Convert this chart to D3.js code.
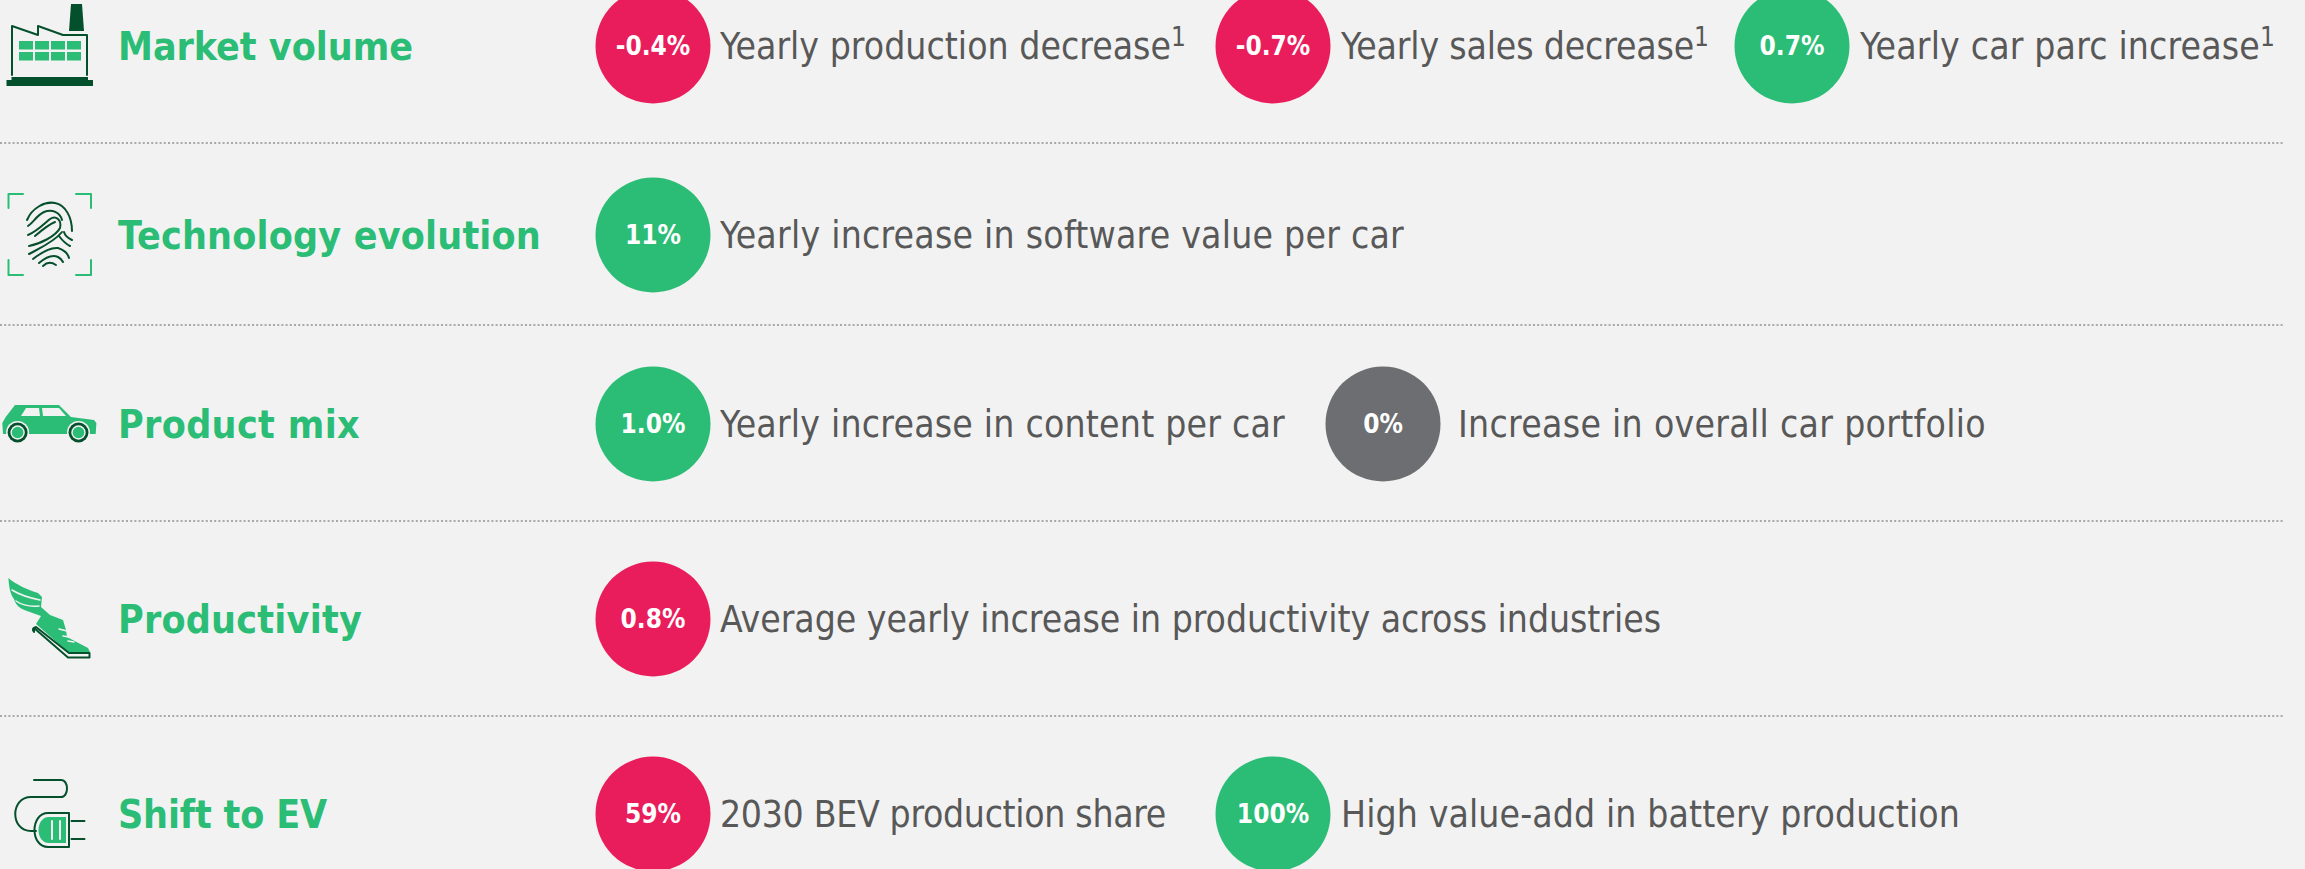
<!DOCTYPE html>
<html><head><meta charset="utf-8">
<script src="https://cdnjs.cloudflare.com/ajax/libs/d3/7.8.5/d3.min.js"></script>
<style>html,body{margin:0;padding:0;background:#f2f2f2;overflow:hidden}svg{display:block}</style>
</head><body><svg id="c" width="2305" height="869"></svg>
<script>
// ---- data ----
const categories = ["Market volume","Technology evolution","Product mix","Productivity","Shift to EV"];
const badgeCategory = ["Market volume","Market volume","Market volume","Technology evolution","Product mix","Product mix","Productivity","Shift to EV","Shift to EV"];
const badgeLabels = ["-0.4%","-0.7%","0.7%","11%","1.0%","0%","0.8%","59%","100%"];
const badgeStatus = ["neg","neg","pos","pos","pos","flat","neg","neg","pos"];
const badgeTexts = ["Yearly production decrease","Yearly sales decrease","Yearly car parc increase","Yearly increase in software value per car","Yearly increase in content per car","Increase in overall car portfolio","Average yearly increase in productivity across industries","2030 BEV production share","High value-add in battery production"];
const badgeNotes = ["1","1","1","","","","","",""];

// ---- layout ----
const GREEN="#2bbd75", DARK="#05502c", RED="#ea1d5c", GREY="#6d6e71", TEXT="#585858", BG="#f2f2f2";
const FONT="'DejaVu Sans Condensed','DejaVu Sans',sans-serif";
const y = d3.scaleOrdinal().domain(categories).range([46,235,424,619,814]);
const color = d3.scaleOrdinal().domain(["neg","pos","flat"]).range([RED,GREEN,GREY]);
const slotX = [653,1273,1792,653,653,1383,653,653,1273];
const textX = [720,1341,1860,720,720,1458,720,720,1341];
const textW = [451,353,400,684,565,528,941,446,619];
const titleX = [118,118,118,118,118];
const titleW = [295,423,242,244,209];
const rules = [143,325,521,716];
const svg = d3.select("#c");
svg.append("rect").attr("width",2305).attr("height",869).attr("fill",BG);

// stretch or tighten a text run to the measured width
function fit(sel,widths){sel.each(function(d,i){
  const w=this.getComputedTextLength(), n=this.textContent.length;
  d3.select(this).attr("letter-spacing",((widths[i]-w)/n).toFixed(3));
});}

svg.selectAll("line.r").data(rules).join("line").attr("class","r")
  .attr("x1",0).attr("x2",2284).attr("y1",d=>d).attr("y2",d=>d)
  .attr("stroke","#a8a8a8").attr("stroke-width",2).attr("stroke-dasharray","2 2.2");

svg.selectAll("text.t").data(categories).join("text").attr("class","t")
  .attr("x",(d,i)=>titleX[i]).attr("y",d=>y(d)+14).attr("fill",GREEN)
  .attr("font-family",FONT).attr("font-weight",700).attr("font-size",39).text(d=>d)
  .call(fit,titleW);

const b = svg.selectAll("g.b").data(badgeLabels).join("g").attr("class","b");
b.append("circle").attr("cx",(d,i)=>slotX[i]).attr("cy",(d,i)=>y(badgeCategory[i])).attr("r",57.5)
  .attr("fill",(d,i)=>color(badgeStatus[i]));
b.append("text").attr("x",(d,i)=>slotX[i]).attr("y",(d,i)=>y(badgeCategory[i])+9)
  .attr("text-anchor","middle").attr("fill","#fff").attr("font-family",FONT).attr("font-weight",700)
  .attr("font-size",26).text(d=>d);
const tx = b.append("text").attr("x",(d,i)=>textX[i]).attr("y",(d,i)=>y(badgeCategory[i])+13)
  .attr("fill",TEXT).attr("font-family",FONT).attr("font-size",37);
tx.append("tspan").attr("class","m").text((d,i)=>badgeTexts[i]).call(fit,textW);
tx.append("tspan").attr("font-size",26).attr("dy",-13).text((d,i)=>badgeNotes[i]);

// ---- icons ----
const icons = svg.append("g");
function p(d,fill,stroke,w){return icons.append("path").attr("d",d).attr("fill",fill||"none").attr("stroke",stroke||"none").attr("stroke-width",w||0).attr("stroke-linecap","round").attr("stroke-linejoin","round");}
// factory
p("M71,4H82L84,31H69Z",DARK);
p("M6.5,86V80H11.5V77H88V80H93V86Z",DARK);
p("M12,75V26L38,35V26L63,35H87V75",null,DARK,2);
[19,35,51,67].forEach(x=>[41,52].forEach(v=>icons.append("rect").attr("x",x).attr("y",v).attr("width",14).attr("height",8.5).attr("fill",GREEN)));
// fingerprint
p("M8.5,208V194H23M76,194H91V208M8.5,260V275H23M76,275H91V260",null,GREEN,2);
["M27,220C32,208 45,201 55,203C66,205 72,218 72,231",
 "M28,226C34,222 36,216 44,212C52,209 60,212 62,220",
 "M28,235C36,232 44,224 50,219C56,215 62,220 60,228C56,236 40,244 29,246",
 "M35,236C42,230 50,224 55,222",
 "M29,254C40,248 54,242 62,232",
 "M33,259C42,252 50,247 58,248C64,250 68,254 69,258",
 "M39,263C46,257 52,254 58,257C60,258 62,260 63,262",
 "M43,266C46,263 50,261 56,265",
 "M59,236C62,240 66,244 70,246",
 "M64,232C65,236 68,238 72,240"].forEach(d=>p(d,null,DARK,2));
// car
p("M15,405H59L71,417L94,420L96.4,423L95.7,434H3L2.3,423L5.7,417Z",GREEN);
p("M26,408H39L40,416H21Z",BG);
p("M42,408H59L66,416H43Z",BG);
[17.6,78.5].forEach(x=>{
 icons.append("circle").attr("cx",x).attr("cy",432.5).attr("r",11.5).attr("fill",BG);
 icons.append("circle").attr("cx",x).attr("cy",432.5).attr("r",10).attr("fill",DARK);
 icons.append("circle").attr("cx",x).attr("cy",432.5).attr("r",7.2).attr("fill",BG);
 icons.append("circle").attr("cx",x).attr("cy",432.5).attr("r",5.8).attr("fill",GREEN);
});
// shoe
p("M8.4,578C15,584 28,590 38,593L42,597L41,607L50,615L63,620L66,630L67,637L88,648L90,652H68L36,624L41,616L27,611C20,609 15,604 14,599C10,594 9,586 8.4,578Z",GREEN);
p("M12,590C20,595 30,598 40,600M16,601C22,605 30,607 39,606M59,629L67,631M63,636L69,637M68,641L74,642",null,BG,1.5);
p("M34,628L68,657.5H89.5V653H69L36,627Q31,628 34,632Z",null,DARK,2);
// plug
p("M34,780H61C69,780 69,797 61,797H31C10,797 10,831 31,831H36",null,DARK,2);
p("M69,813H48C30,813 30,847 48,847H69Z",null,DARK,2);
p("M66,817H49C35,817 35,843 49,843H66Z",GREEN);
p("M52,821V839M60,821V839",null,BG,2);
p("M71.5,821H84.5M71.5,839H84.5",null,DARK,2);
</script></body></html>
